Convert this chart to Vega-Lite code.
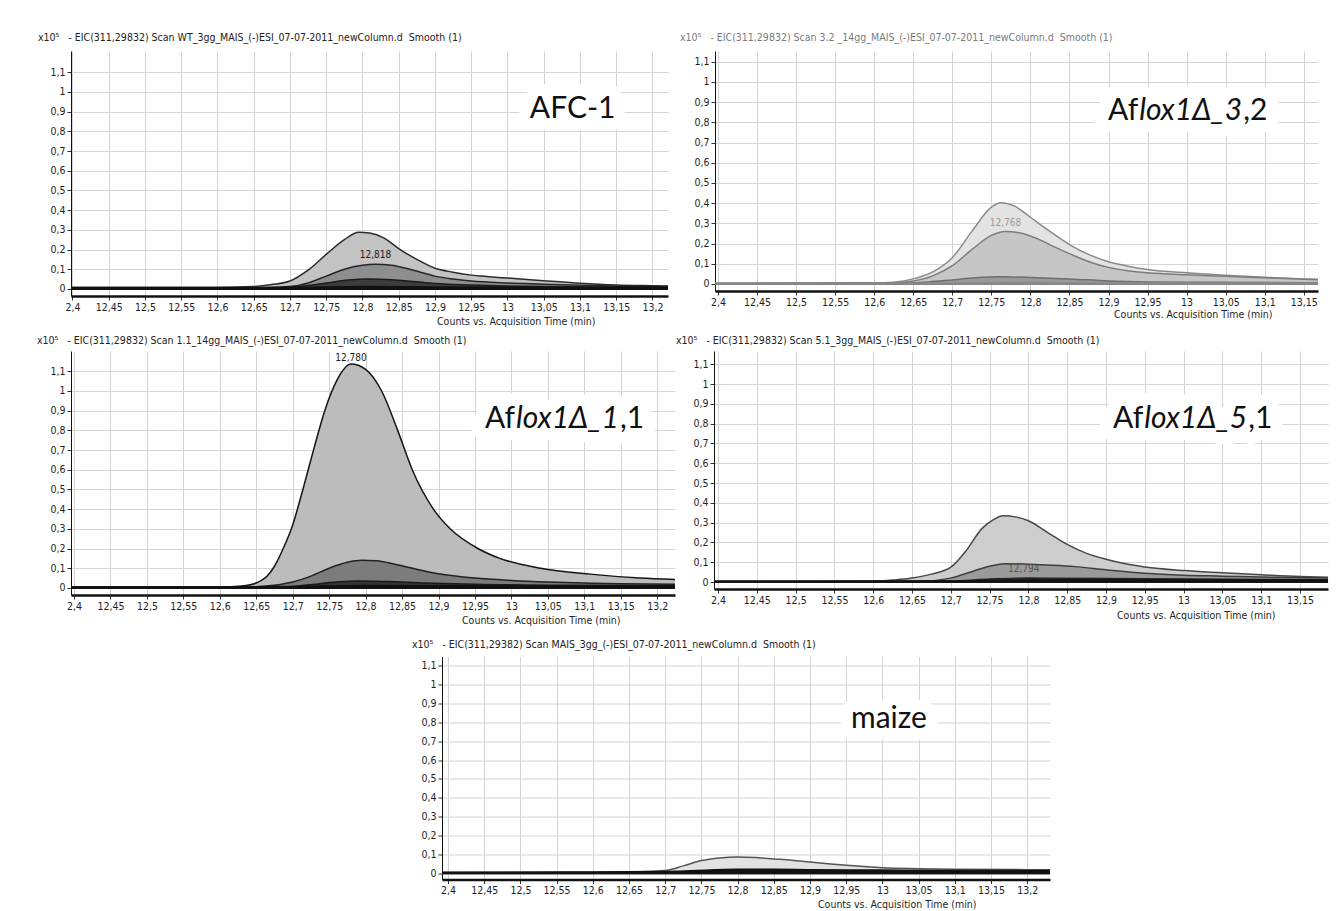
{
  "$schema": "https://vega.github.io/schema/vega-lite/v6.json",
  "background": "white",
  "padding": {"left": 37, "top": 32, "right": 5, "bottom": 5},
  "spacing": 13.5,
  "datasets": {
    "traces": [
      {"panel":"p1","series":"p1a","t":12.39,"v":0.008},{"panel":"p1","series":"p1a","t":12.5,"v":0.008},{"panel":"p1","series":"p1a","t":12.6,"v":0.008},{"panel":"p1","series":"p1a","t":12.65,"v":0.012},{"panel":"p1","series":"p1a","t":12.675,"v":0.022},{"panel":"p1","series":"p1a","t":12.7,"v":0.04},{"panel":"p1","series":"p1a","t":12.725,"v":0.095},{"panel":"p1","series":"p1a","t":12.75,"v":0.175},{"panel":"p1","series":"p1a","t":12.775,"v":0.25},{"panel":"p1","series":"p1a","t":12.795,"v":0.288},{"panel":"p1","series":"p1a","t":12.81,"v":0.284},{"panel":"p1","series":"p1a","t":12.83,"v":0.258},{"panel":"p1","series":"p1a","t":12.85,"v":0.205},{"panel":"p1","series":"p1a","t":12.875,"v":0.15},{"panel":"p1","series":"p1a","t":12.9,"v":0.105},{"panel":"p1","series":"p1a","t":12.925,"v":0.085},{"panel":"p1","series":"p1a","t":12.95,"v":0.07},{"panel":"p1","series":"p1a","t":12.975,"v":0.062},{"panel":"p1","series":"p1a","t":13.0,"v":0.055},{"panel":"p1","series":"p1a","t":13.05,"v":0.042},{"panel":"p1","series":"p1a","t":13.1,"v":0.029},{"panel":"p1","series":"p1a","t":13.15,"v":0.02},{"panel":"p1","series":"p1a","t":13.2,"v":0.016},{"panel":"p1","series":"p1a","t":13.23,"v":0.014},
      {"panel":"p1","series":"p1b","t":12.39,"v":0.005},{"panel":"p1","series":"p1b","t":12.65,"v":0.006},{"panel":"p1","series":"p1b","t":12.7,"v":0.012},{"panel":"p1","series":"p1b","t":12.725,"v":0.03},{"panel":"p1","series":"p1b","t":12.75,"v":0.065},{"panel":"p1","series":"p1b","t":12.775,"v":0.1},{"panel":"p1","series":"p1b","t":12.8,"v":0.12},{"panel":"p1","series":"p1b","t":12.818,"v":0.125},{"panel":"p1","series":"p1b","t":12.84,"v":0.12},{"panel":"p1","series":"p1b","t":12.86,"v":0.105},{"panel":"p1","series":"p1b","t":12.88,"v":0.085},{"panel":"p1","series":"p1b","t":12.9,"v":0.065},{"panel":"p1","series":"p1b","t":12.925,"v":0.05},{"panel":"p1","series":"p1b","t":12.95,"v":0.04},{"panel":"p1","series":"p1b","t":13.0,"v":0.03},{"panel":"p1","series":"p1b","t":13.05,"v":0.024},{"panel":"p1","series":"p1b","t":13.1,"v":0.018},{"panel":"p1","series":"p1b","t":13.15,"v":0.014},{"panel":"p1","series":"p1b","t":13.23,"v":0.011},
      {"panel":"p1","series":"p1c","t":12.39,"v":0.004},{"panel":"p1","series":"p1c","t":12.68,"v":0.005},{"panel":"p1","series":"p1c","t":12.72,"v":0.015},{"panel":"p1","series":"p1c","t":12.75,"v":0.03},{"panel":"p1","series":"p1c","t":12.78,"v":0.045},{"panel":"p1","series":"p1c","t":12.81,"v":0.05},{"panel":"p1","series":"p1c","t":12.84,"v":0.047},{"panel":"p1","series":"p1c","t":12.87,"v":0.038},{"panel":"p1","series":"p1c","t":12.9,"v":0.028},{"panel":"p1","series":"p1c","t":12.95,"v":0.02},{"panel":"p1","series":"p1c","t":13.0,"v":0.015},{"panel":"p1","series":"p1c","t":13.1,"v":0.01},{"panel":"p1","series":"p1c","t":13.23,"v":0.008},
      {"panel":"p1","series":"p1d","t":12.39,"v":0.006},{"panel":"p1","series":"p1d","t":12.6,"v":0.006},{"panel":"p1","series":"p1d","t":12.7,"v":0.007},{"panel":"p1","series":"p1d","t":12.8,"v":0.012},{"panel":"p1","series":"p1d","t":12.9,"v":0.01},{"panel":"p1","series":"p1d","t":13.0,"v":0.009},{"panel":"p1","series":"p1d","t":13.23,"v":0.008},

      {"panel":"p2","series":"p2a","t":12.39,"v":0.003},{"panel":"p2","series":"p2a","t":12.6,"v":0.004},{"panel":"p2","series":"p2a","t":12.625,"v":0.008},{"panel":"p2","series":"p2a","t":12.65,"v":0.025},{"panel":"p2","series":"p2a","t":12.675,"v":0.06},{"panel":"p2","series":"p2a","t":12.7,"v":0.13},{"panel":"p2","series":"p2a","t":12.725,"v":0.26},{"panel":"p2","series":"p2a","t":12.75,"v":0.38},{"panel":"p2","series":"p2a","t":12.762,"v":0.402},{"panel":"p2","series":"p2a","t":12.78,"v":0.385},{"panel":"p2","series":"p2a","t":12.8,"v":0.33},{"panel":"p2","series":"p2a","t":12.825,"v":0.26},{"panel":"p2","series":"p2a","t":12.85,"v":0.195},{"panel":"p2","series":"p2a","t":12.875,"v":0.145},{"panel":"p2","series":"p2a","t":12.9,"v":0.11},{"panel":"p2","series":"p2a","t":12.925,"v":0.088},{"panel":"p2","series":"p2a","t":12.95,"v":0.072},{"panel":"p2","series":"p2a","t":13.0,"v":0.055},{"panel":"p2","series":"p2a","t":13.05,"v":0.043},{"panel":"p2","series":"p2a","t":13.1,"v":0.033},{"panel":"p2","series":"p2a","t":13.15,"v":0.025},{"panel":"p2","series":"p2a","t":13.18,"v":0.022},
      {"panel":"p2","series":"p2b","t":12.39,"v":0.003},{"panel":"p2","series":"p2b","t":12.625,"v":0.005},{"panel":"p2","series":"p2b","t":12.65,"v":0.015},{"panel":"p2","series":"p2b","t":12.675,"v":0.04},{"panel":"p2","series":"p2b","t":12.7,"v":0.09},{"panel":"p2","series":"p2b","t":12.725,"v":0.17},{"panel":"p2","series":"p2b","t":12.75,"v":0.24},{"panel":"p2","series":"p2b","t":12.768,"v":0.26},{"panel":"p2","series":"p2b","t":12.79,"v":0.25},{"panel":"p2","series":"p2b","t":12.81,"v":0.222},{"panel":"p2","series":"p2b","t":12.83,"v":0.185},{"panel":"p2","series":"p2b","t":12.85,"v":0.15},{"panel":"p2","series":"p2b","t":12.875,"v":0.11},{"panel":"p2","series":"p2b","t":12.9,"v":0.082},{"panel":"p2","series":"p2b","t":12.925,"v":0.065},{"panel":"p2","series":"p2b","t":12.95,"v":0.055},{"panel":"p2","series":"p2b","t":13.0,"v":0.045},{"panel":"p2","series":"p2b","t":13.05,"v":0.038},{"panel":"p2","series":"p2b","t":13.1,"v":0.03},{"panel":"p2","series":"p2b","t":13.15,"v":0.023},{"panel":"p2","series":"p2b","t":13.18,"v":0.02},
      {"panel":"p2","series":"p2c","t":12.39,"v":0.002},{"panel":"p2","series":"p2c","t":12.62,"v":0.003},{"panel":"p2","series":"p2c","t":12.67,"v":0.01},{"panel":"p2","series":"p2c","t":12.7,"v":0.02},{"panel":"p2","series":"p2c","t":12.73,"v":0.03},{"panel":"p2","series":"p2c","t":12.76,"v":0.035},{"panel":"p2","series":"p2c","t":12.8,"v":0.032},{"panel":"p2","series":"p2c","t":12.85,"v":0.025},{"panel":"p2","series":"p2c","t":12.9,"v":0.015},{"panel":"p2","series":"p2c","t":12.95,"v":0.01},{"panel":"p2","series":"p2c","t":13.0,"v":0.008},{"panel":"p2","series":"p2c","t":13.18,"v":0.006},
      {"panel":"p2","series":"p2d","t":12.39,"v":0.002},{"panel":"p2","series":"p2d","t":12.6,"v":0.003},{"panel":"p2","series":"p2d","t":12.7,"v":0.005},{"panel":"p2","series":"p2d","t":12.8,"v":0.007},{"panel":"p2","series":"p2d","t":12.9,"v":0.005},{"panel":"p2","series":"p2d","t":13.18,"v":0.004},

      {"panel":"p3","series":"p3a","t":12.38,"v":0.004},{"panel":"p3","series":"p3a","t":12.5,"v":0.004},{"panel":"p3","series":"p3a","t":12.6,"v":0.005},{"panel":"p3","series":"p3a","t":12.63,"v":0.01},{"panel":"p3","series":"p3a","t":12.65,"v":0.025},{"panel":"p3","series":"p3a","t":12.665,"v":0.06},{"panel":"p3","series":"p3a","t":12.675,"v":0.11},{"panel":"p3","series":"p3a","t":12.687,"v":0.2},{"panel":"p3","series":"p3a","t":12.7,"v":0.32},{"panel":"p3","series":"p3a","t":12.714,"v":0.5},{"panel":"p3","series":"p3a","t":12.73,"v":0.72},{"panel":"p3","series":"p3a","t":12.744,"v":0.9},{"panel":"p3","series":"p3a","t":12.76,"v":1.05},{"panel":"p3","series":"p3a","t":12.78,"v":1.137},{"panel":"p3","series":"p3a","t":12.8,"v":1.11},{"panel":"p3","series":"p3a","t":12.822,"v":1.0},{"panel":"p3","series":"p3a","t":12.844,"v":0.8},{"panel":"p3","series":"p3a","t":12.864,"v":0.6},{"panel":"p3","series":"p3a","t":12.893,"v":0.4},{"panel":"p3","series":"p3a","t":12.916,"v":0.3},{"panel":"p3","series":"p3a","t":12.954,"v":0.2},{"panel":"p3","series":"p3a","t":12.984,"v":0.15},{"panel":"p3","series":"p3a","t":13.04,"v":0.1},{"panel":"p3","series":"p3a","t":13.108,"v":0.07},{"panel":"p3","series":"p3a","t":13.176,"v":0.05},{"panel":"p3","series":"p3a","t":13.23,"v":0.042},
      {"panel":"p3","series":"p3b","t":12.38,"v":0.003},{"panel":"p3","series":"p3b","t":12.62,"v":0.004},{"panel":"p3","series":"p3b","t":12.66,"v":0.008},{"panel":"p3","series":"p3b","t":12.7,"v":0.03},{"panel":"p3","series":"p3b","t":12.725,"v":0.06},{"panel":"p3","series":"p3b","t":12.75,"v":0.1},{"panel":"p3","series":"p3b","t":12.775,"v":0.13},{"panel":"p3","series":"p3b","t":12.795,"v":0.14},{"panel":"p3","series":"p3b","t":12.815,"v":0.138},{"panel":"p3","series":"p3b","t":12.84,"v":0.12},{"panel":"p3","series":"p3b","t":12.87,"v":0.095},{"panel":"p3","series":"p3b","t":12.9,"v":0.072},{"panel":"p3","series":"p3b","t":12.95,"v":0.05},{"panel":"p3","series":"p3b","t":13.0,"v":0.038},{"panel":"p3","series":"p3b","t":13.05,"v":0.03},{"panel":"p3","series":"p3b","t":13.1,"v":0.025},{"panel":"p3","series":"p3b","t":13.15,"v":0.021},{"panel":"p3","series":"p3b","t":13.23,"v":0.018},
      {"panel":"p3","series":"p3c","t":12.38,"v":0.003},{"panel":"p3","series":"p3c","t":12.68,"v":0.004},{"panel":"p3","series":"p3c","t":12.72,"v":0.015},{"panel":"p3","series":"p3c","t":12.76,"v":0.03},{"panel":"p3","series":"p3c","t":12.79,"v":0.035},{"panel":"p3","series":"p3c","t":12.83,"v":0.032},{"panel":"p3","series":"p3c","t":12.88,"v":0.025},{"panel":"p3","series":"p3c","t":12.95,"v":0.018},{"panel":"p3","series":"p3c","t":13.05,"v":0.014},{"panel":"p3","series":"p3c","t":13.23,"v":0.012},
      {"panel":"p3","series":"p3d","t":12.38,"v":0.005},{"panel":"p3","series":"p3d","t":12.6,"v":0.005},{"panel":"p3","series":"p3d","t":12.7,"v":0.007},{"panel":"p3","series":"p3d","t":12.8,"v":0.012},{"panel":"p3","series":"p3d","t":12.9,"v":0.011},{"panel":"p3","series":"p3d","t":13.0,"v":0.01},{"panel":"p3","series":"p3d","t":13.23,"v":0.01},

      {"panel":"p4","series":"p4a","t":12.39,"v":0.004},{"panel":"p4","series":"p4a","t":12.6,"v":0.004},{"panel":"p4","series":"p4a","t":12.625,"v":0.01},{"panel":"p4","series":"p4a","t":12.65,"v":0.02},{"panel":"p4","series":"p4a","t":12.675,"v":0.04},{"panel":"p4","series":"p4a","t":12.7,"v":0.075},{"panel":"p4","series":"p4a","t":12.72,"v":0.16},{"panel":"p4","series":"p4a","t":12.74,"v":0.27},{"panel":"p4","series":"p4a","t":12.755,"v":0.315},{"panel":"p4","series":"p4a","t":12.767,"v":0.335},{"panel":"p4","series":"p4a","t":12.785,"v":0.328},{"panel":"p4","series":"p4a","t":12.8,"v":0.31},{"panel":"p4","series":"p4a","t":12.825,"v":0.25},{"panel":"p4","series":"p4a","t":12.85,"v":0.19},{"panel":"p4","series":"p4a","t":12.875,"v":0.145},{"panel":"p4","series":"p4a","t":12.9,"v":0.115},{"panel":"p4","series":"p4a","t":12.925,"v":0.092},{"panel":"p4","series":"p4a","t":12.95,"v":0.076},{"panel":"p4","series":"p4a","t":13.0,"v":0.058},{"panel":"p4","series":"p4a","t":13.05,"v":0.047},{"panel":"p4","series":"p4a","t":13.1,"v":0.037},{"panel":"p4","series":"p4a","t":13.15,"v":0.028},{"panel":"p4","series":"p4a","t":13.19,"v":0.024},
      {"panel":"p4","series":"p4b","t":12.39,"v":0.003},{"panel":"p4","series":"p4b","t":12.66,"v":0.004},{"panel":"p4","series":"p4b","t":12.7,"v":0.02},{"panel":"p4","series":"p4b","t":12.725,"v":0.05},{"panel":"p4","series":"p4b","t":12.75,"v":0.08},{"panel":"p4","series":"p4b","t":12.77,"v":0.093},{"panel":"p4","series":"p4b","t":12.8,"v":0.09},{"panel":"p4","series":"p4b","t":12.83,"v":0.085},{"panel":"p4","series":"p4b","t":12.86,"v":0.078},{"panel":"p4","series":"p4b","t":12.9,"v":0.062},{"panel":"p4","series":"p4b","t":12.95,"v":0.045},{"panel":"p4","series":"p4b","t":13.0,"v":0.035},{"panel":"p4","series":"p4b","t":13.05,"v":0.03},{"panel":"p4","series":"p4b","t":13.1,"v":0.025},{"panel":"p4","series":"p4b","t":13.19,"v":0.02},
      {"panel":"p4","series":"p4c","t":12.39,"v":0.003},{"panel":"p4","series":"p4c","t":12.7,"v":0.005},{"panel":"p4","series":"p4c","t":12.75,"v":0.015},{"panel":"p4","series":"p4c","t":12.8,"v":0.02},{"panel":"p4","series":"p4c","t":12.9,"v":0.018},{"panel":"p4","series":"p4c","t":13.0,"v":0.015},{"panel":"p4","series":"p4c","t":13.19,"v":0.012},
      {"panel":"p4","series":"p4d","t":12.39,"v":0.004},{"panel":"p4","series":"p4d","t":12.7,"v":0.005},{"panel":"p4","series":"p4d","t":12.8,"v":0.01},{"panel":"p4","series":"p4d","t":12.9,"v":0.01},{"panel":"p4","series":"p4d","t":13.19,"v":0.01},

      {"panel":"p5","series":"p5a","t":12.39,"v":0.005},{"panel":"p5","series":"p5a","t":12.6,"v":0.007},{"panel":"p5","series":"p5a","t":12.68,"v":0.01},{"panel":"p5","series":"p5a","t":12.7,"v":0.015},{"panel":"p5","series":"p5a","t":12.725,"v":0.04},{"panel":"p5","series":"p5a","t":12.75,"v":0.068},{"panel":"p5","series":"p5a","t":12.775,"v":0.082},{"panel":"p5","series":"p5a","t":12.8,"v":0.087},{"panel":"p5","series":"p5a","t":12.825,"v":0.084},{"panel":"p5","series":"p5a","t":12.85,"v":0.077},{"panel":"p5","series":"p5a","t":12.875,"v":0.07},{"panel":"p5","series":"p5a","t":12.9,"v":0.06},{"panel":"p5","series":"p5a","t":12.95,"v":0.043},{"panel":"p5","series":"p5a","t":13.0,"v":0.03},{"panel":"p5","series":"p5a","t":13.05,"v":0.025},{"panel":"p5","series":"p5a","t":13.1,"v":0.022},{"panel":"p5","series":"p5a","t":13.2,"v":0.02},{"panel":"p5","series":"p5a","t":13.24,"v":0.02},
      {"panel":"p5","series":"p5b","t":12.39,"v":0.006},{"panel":"p5","series":"p5b","t":12.43,"v":0.006},{"panel":"p5","series":"p5b","t":12.6,"v":0.008},{"panel":"p5","series":"p5b","t":12.72,"v":0.012},{"panel":"p5","series":"p5b","t":12.8,"v":0.022},{"panel":"p5","series":"p5b","t":12.85,"v":0.022},{"panel":"p5","series":"p5b","t":12.9,"v":0.02},{"panel":"p5","series":"p5b","t":13.0,"v":0.018},{"panel":"p5","series":"p5b","t":13.1,"v":0.016},{"panel":"p5","series":"p5b","t":13.24,"v":0.016}
    ],
    "peaks": [
      {"panel":"p1","t":12.818,"v":0.17,"label":"12,818"},
      {"panel":"p2","t":12.768,"v":0.3,"label":"12,768"},
      {"panel":"p3","t":12.78,"v":1.168,"label":"12,780"},
      {"panel":"p4","t":12.794,"v":0.065,"label":"12,794"}
    ],
    "plainlabels": [
      {"panel":"p1","t":13.09,"v":0.914,"text":"AFC-1"},
      {"panel":"p5","t":13.009,"v":0.815,"text":"maize"}
    ],
    "mixlabels": [
      {"panel":"p2","t":12.938,"v":0.856,"pre":"Af","ital":"lox1Δ_3","post":",2","full":"Aflox1Δ_3,2"},
      {"panel":"p3","t":13.005,"v":0.858,"pre":"Af","ital":"lox1Δ_1","post":",1","full":"Aflox1Δ_1,1"},
      {"panel":"p4","t":12.948,"v":0.823,"pre":"Af","ital":"lox1Δ_5","post":",1","full":"Aflox1Δ_5,1"}
    ]
  },
  "vconcat": [
    {
      "spacing": 8,
      "vconcat": [
        {
          "bounds": "flush",
          "spacing": 47,
          "hconcat": [
            {
              "width": 597, "height": 245,
              "title": {"text": "x10⁵\u00a0\u00a0\u00a0- EIC(311,29832) Scan WT_3gg_MAIS_(-)ESI_07-07-2011_newColumn.d\u00a0\u00a0Smooth (1)", "dx": -33, "offset": 8},
              "encoding": {
                "x": {"field": "t", "type": "quantitative", "scale": {"domain": [12.398, 13.2215], "nice": false, "zero": false},
                      "axis": {"values": [12.4,12.45,12.5,12.55,12.6,12.65,12.7,12.75,12.8,12.85,12.9,12.95,13,13.05,13.1,13.15,13.2], "labelExpr": "datum.value < 12.41 ? '2,4' : replace(format(datum.value, '.2~f'), '.', ',')", "title": "Counts vs. Acquisition Time (min)", "titleX": 524, "titleY": 25}},
                "y": {"field": "v", "type": "quantitative", "stack": null, "scale": {"domain": [-0.036, 1.208], "nice": false, "zero": false},
                      "axis": {"values": [0,0.1,0.2,0.3,0.4,0.5,0.6,0.7,0.8,0.9,1,1.1], "labelExpr": "replace(format(datum.value, '.1~f'), '.', ',')", "title": null}}
              },
              "layer": [
                {"data": {"name": "traces"}, "transform": [{"filter": "datum.panel == 'p1'"}],
                 "mark": {"type": "area", "interpolate": "monotone", "clip": true, "strokeWidth": 1.5},
                 "encoding": {
                   "fill": {"field": "series", "type": "nominal", "legend": null, "scale": {"domain": ["p1a","p1b","p1c","p1d","p2a","p2b","p2c","p2d","p3a","p3b","p3c","p3d","p4a","p4b","p4c","p4d","p5a","p5b"], "range": ["#c3c3c3","#8e8e8e","#3c3c3c","#111111","#e3e3e3","#c6c6c6","#9a9a9a","#7a7a7a","#bcbcbc","#7c7c7c","#333333","#111111","#cdcdcd","#9a9a9a","#2e2e2e","#111111","#e2e2e2","#111111"]}},
                   "stroke": {"field": "series", "type": "nominal", "legend": null, "scale": {"domain": ["p1a","p1b","p1c","p1d","p2a","p2b","p2c","p2d","p3a","p3b","p3c","p3d","p4a","p4b","p4c","p4d","p5a","p5b"], "range": ["#2b2b2b","#262626","#1c1c1c","#111111","#8a8a8a","#7c7c7c","#6e6e6e","#8a8a8a","#151515","#222222","#1a1a1a","#111111","#474747","#3e3e3e","#222222","#111111","#555555","#111111"]}}
                 }},
                {"data": {"name": "peaks"}, "transform": [{"filter": "datum.panel == 'p1'"}],
                 "mark": {"type": "text", "fontSize": 10, "color": "#222", "baseline": "middle"},
                 "encoding": {"text": {"field": "label"}}},
                {"data": {"name": "plainlabels"}, "transform": [{"filter": "datum.panel == 'p1'"}],
                 "mark": {"type": "text", "font": "Lato, Noto Sans, sans-serif", "fontSize": 30, "baseline": "middle", "align": "center", "fill": "white", "stroke": "white", "strokeWidth": 24, "strokeJoin": "round"},
                 "encoding": {"text": {"field": "text"}}},
                {"data": {"name": "plainlabels"}, "transform": [{"filter": "datum.panel == 'p1'"}],
                 "mark": {"type": "text", "font": "Lato, Noto Sans, sans-serif", "fontSize": 30, "baseline": "middle", "align": "center", "color": "#111"},
                 "encoding": {"text": {"field": "text"}}}
              ]
            },
            {
              "width": 603, "height": 240,
              "title": {"text": "x10⁵\u00a0\u00a0\u00a0- EIC(311,29832) Scan 3.2 _14gg_MAIS_(-)ESI_07-07-2011_newColumn.d\u00a0\u00a0Smooth (1)", "dx": -35, "offset": 8, "color": "#7a7a7a"},
              "encoding": {
                "x": {"field": "t", "type": "quantitative", "scale": {"domain": [12.3962, 13.1682], "nice": false, "zero": false},
                      "axis": {"values": [12.4,12.45,12.5,12.55,12.6,12.65,12.7,12.75,12.8,12.85,12.9,12.95,13,13.05,13.1,13.15], "labelExpr": "datum.value < 12.41 ? '2,4' : replace(format(datum.value, '.2~f'), '.', ',')", "title": "Counts vs. Acquisition Time (min)", "titleX": 557, "titleY": 23}},
                "y": {"field": "v", "type": "quantitative", "stack": null, "scale": {"domain": [-0.035, 1.153], "nice": false, "zero": false},
                      "axis": {"values": [0,0.1,0.2,0.3,0.4,0.5,0.6,0.7,0.8,0.9,1,1.1], "labelExpr": "replace(format(datum.value, '.1~f'), '.', ',')", "title": null}}
              },
              "layer": [
                {"data": {"name": "traces"}, "transform": [{"filter": "datum.panel == 'p2'"}],
                 "mark": {"type": "area", "interpolate": "monotone", "clip": true, "strokeWidth": 1.5},
                 "encoding": {
                   "fill": {"field": "series", "type": "nominal", "legend": null, "scale": {"domain": ["p1a","p1b","p1c","p1d","p2a","p2b","p2c","p2d","p3a","p3b","p3c","p3d","p4a","p4b","p4c","p4d","p5a","p5b"], "range": ["#c3c3c3","#8e8e8e","#3c3c3c","#111111","#e3e3e3","#c6c6c6","#9a9a9a","#7a7a7a","#bcbcbc","#7c7c7c","#333333","#111111","#cdcdcd","#9a9a9a","#2e2e2e","#111111","#e2e2e2","#111111"]}},
                   "stroke": {"field": "series", "type": "nominal", "legend": null, "scale": {"domain": ["p1a","p1b","p1c","p1d","p2a","p2b","p2c","p2d","p3a","p3b","p3c","p3d","p4a","p4b","p4c","p4d","p5a","p5b"], "range": ["#2b2b2b","#262626","#1c1c1c","#111111","#8a8a8a","#7c7c7c","#6e6e6e","#8a8a8a","#151515","#222222","#1a1a1a","#111111","#474747","#3e3e3e","#222222","#111111","#555555","#111111"]}}
                 }},
                {"data": {"name": "peaks"}, "transform": [{"filter": "datum.panel == 'p2'"}],
                 "mark": {"type": "text", "fontSize": 10, "color": "#9a9a9a", "baseline": "middle"},
                 "encoding": {"text": {"field": "label"}}},
                {"data": {"name": "mixlabels"}, "transform": [{"filter": "datum.panel == 'p2'"}],
                 "mark": {"type": "text", "font": "Lato, Noto Sans, sans-serif", "fontSize": 30, "baseline": "middle", "align": "left", "dx": -32, "fill": "white", "stroke": "white", "strokeWidth": 24, "strokeJoin": "round"},
                 "encoding": {"text": {"field": "full"}}},
                {"data": {"name": "mixlabels"}, "transform": [{"filter": "datum.panel == 'p2'"}],
                 "mark": {"type": "text", "font": "Lato, Noto Sans, sans-serif", "fontSize": 30, "baseline": "middle", "align": "right", "color": "#111"},
                 "encoding": {"text": {"field": "pre"}}},
                {"data": {"name": "mixlabels"}, "transform": [{"filter": "datum.panel == 'p2'"}],
                 "mark": {"type": "text", "font": "Lato, Noto Sans, sans-serif", "fontSize": 30, "fontStyle": "italic", "baseline": "middle", "align": "left", "dx": 1, "color": "#111"},
                 "encoding": {"text": {"field": "ital"}}},
                {"data": {"name": "mixlabels"}, "transform": [{"filter": "datum.panel == 'p2'"}],
                 "mark": {"type": "text", "font": "Lato, Noto Sans, sans-serif", "fontSize": 30, "baseline": "middle", "align": "left", "dx": 105, "color": "#111"},
                 "encoding": {"text": {"field": "post"}}}
              ]
            }
          ]
        },
        {
          "bounds": "flush",
          "spacing": 39,
          "hconcat": [
            {
              "width": 604, "height": 244,
              "title": {"text": "x10⁵\u00a0\u00a0\u00a0- EIC(311,29832) Scan 1.1_14gg_MAIS_(-)ESI_07-07-2011_newColumn.d\u00a0\u00a0Smooth (1)", "dx": -34, "offset": 5},
              "encoding": {
                "x": {"field": "t", "type": "quantitative", "scale": {"domain": [12.3959, 13.2244], "nice": false, "zero": false},
                      "axis": {"values": [12.4,12.45,12.5,12.55,12.6,12.65,12.7,12.75,12.8,12.85,12.9,12.95,13,13.05,13.1,13.15,13.2], "labelExpr": "datum.value < 12.41 ? '2,4' : replace(format(datum.value, '.2~f'), '.', ',')", "title": "Counts vs. Acquisition Time (min)", "titleX": 549, "titleY": 25}},
                "y": {"field": "v", "type": "quantitative", "stack": null, "scale": {"domain": [-0.036, 1.203], "nice": false, "zero": false},
                      "axis": {"values": [0,0.1,0.2,0.3,0.4,0.5,0.6,0.7,0.8,0.9,1,1.1], "labelExpr": "replace(format(datum.value, '.1~f'), '.', ',')", "title": null}}
              },
              "layer": [
                {"data": {"name": "traces"}, "transform": [{"filter": "datum.panel == 'p3'"}],
                 "mark": {"type": "area", "interpolate": "monotone", "clip": true, "strokeWidth": 1.5},
                 "encoding": {
                   "fill": {"field": "series", "type": "nominal", "legend": null, "scale": {"domain": ["p1a","p1b","p1c","p1d","p2a","p2b","p2c","p2d","p3a","p3b","p3c","p3d","p4a","p4b","p4c","p4d","p5a","p5b"], "range": ["#c3c3c3","#8e8e8e","#3c3c3c","#111111","#e3e3e3","#c6c6c6","#9a9a9a","#7a7a7a","#bcbcbc","#7c7c7c","#333333","#111111","#cdcdcd","#9a9a9a","#2e2e2e","#111111","#e2e2e2","#111111"]}},
                   "stroke": {"field": "series", "type": "nominal", "legend": null, "scale": {"domain": ["p1a","p1b","p1c","p1d","p2a","p2b","p2c","p2d","p3a","p3b","p3c","p3d","p4a","p4b","p4c","p4d","p5a","p5b"], "range": ["#2b2b2b","#262626","#1c1c1c","#111111","#8a8a8a","#7c7c7c","#6e6e6e","#8a8a8a","#151515","#222222","#1a1a1a","#111111","#474747","#3e3e3e","#222222","#111111","#555555","#111111"]}}
                 }},
                {"data": {"name": "peaks"}, "transform": [{"filter": "datum.panel == 'p3'"}],
                 "mark": {"type": "text", "fontSize": 10, "color": "#222", "baseline": "middle"},
                 "encoding": {"text": {"field": "label"}}},
                {"data": {"name": "mixlabels"}, "transform": [{"filter": "datum.panel == 'p3'"}],
                 "mark": {"type": "text", "font": "Lato, Noto Sans, sans-serif", "fontSize": 30, "baseline": "middle", "align": "left", "dx": -32, "fill": "white", "stroke": "white", "strokeWidth": 24, "strokeJoin": "round"},
                 "encoding": {"text": {"field": "full"}}},
                {"data": {"name": "mixlabels"}, "transform": [{"filter": "datum.panel == 'p3'"}],
                 "mark": {"type": "text", "font": "Lato, Noto Sans, sans-serif", "fontSize": 30, "baseline": "middle", "align": "right", "color": "#111"},
                 "encoding": {"text": {"field": "pre"}}},
                {"data": {"name": "mixlabels"}, "transform": [{"filter": "datum.panel == 'p3'"}],
                 "mark": {"type": "text", "font": "Lato, Noto Sans, sans-serif", "fontSize": 30, "fontStyle": "italic", "baseline": "middle", "align": "left", "dx": 1, "color": "#111"},
                 "encoding": {"text": {"field": "ital"}}},
                {"data": {"name": "mixlabels"}, "transform": [{"filter": "datum.panel == 'p3'"}],
                 "mark": {"type": "text", "font": "Lato, Noto Sans, sans-serif", "fontSize": 30, "baseline": "middle", "align": "left", "dx": 105, "color": "#111"},
                 "encoding": {"text": {"field": "post"}}}
              ]
            },
            {
              "width": 614, "height": 238,
              "title": {"text": "x10⁵\u00a0\u00a0\u00a0- EIC(311,29832) Scan 5.1_3gg_MAIS_(-)ESI_07-07-2011_newColumn.d\u00a0\u00a0Smooth (1)", "dx": -38, "offset": 5},
              "encoding": {
                "x": {"field": "t", "type": "quantitative", "scale": {"domain": [12.3948, 13.1861], "nice": false, "zero": false},
                      "axis": {"values": [12.4,12.45,12.5,12.55,12.6,12.65,12.7,12.75,12.8,12.85,12.9,12.95,13,13.05,13.1,13.15], "labelExpr": "datum.value < 12.41 ? '2,4' : replace(format(datum.value, '.2~f'), '.', ',')", "title": "Counts vs. Acquisition Time (min)", "titleX": 561, "titleY": 26}},
                "y": {"field": "v", "type": "quantitative", "stack": null, "scale": {"domain": [-0.035, 1.167], "nice": false, "zero": false},
                      "axis": {"values": [0,0.1,0.2,0.3,0.4,0.5,0.6,0.7,0.8,0.9,1,1.1], "labelExpr": "replace(format(datum.value, '.1~f'), '.', ',')", "title": null}}
              },
              "layer": [
                {"data": {"name": "traces"}, "transform": [{"filter": "datum.panel == 'p4'"}],
                 "mark": {"type": "area", "interpolate": "monotone", "clip": true, "strokeWidth": 1.5},
                 "encoding": {
                   "fill": {"field": "series", "type": "nominal", "legend": null, "scale": {"domain": ["p1a","p1b","p1c","p1d","p2a","p2b","p2c","p2d","p3a","p3b","p3c","p3d","p4a","p4b","p4c","p4d","p5a","p5b"], "range": ["#c3c3c3","#8e8e8e","#3c3c3c","#111111","#e3e3e3","#c6c6c6","#9a9a9a","#7a7a7a","#bcbcbc","#7c7c7c","#333333","#111111","#cdcdcd","#9a9a9a","#2e2e2e","#111111","#e2e2e2","#111111"]}},
                   "stroke": {"field": "series", "type": "nominal", "legend": null, "scale": {"domain": ["p1a","p1b","p1c","p1d","p2a","p2b","p2c","p2d","p3a","p3b","p3c","p3d","p4a","p4b","p4c","p4d","p5a","p5b"], "range": ["#2b2b2b","#262626","#1c1c1c","#111111","#8a8a8a","#7c7c7c","#6e6e6e","#8a8a8a","#151515","#222222","#1a1a1a","#111111","#474747","#3e3e3e","#222222","#111111","#555555","#111111"]}}
                 }},
                {"data": {"name": "peaks"}, "transform": [{"filter": "datum.panel == 'p4'"}],
                 "mark": {"type": "text", "fontSize": 10, "color": "#555", "baseline": "middle"},
                 "encoding": {"text": {"field": "label"}}},
                {"data": {"name": "mixlabels"}, "transform": [{"filter": "datum.panel == 'p4'"}],
                 "mark": {"type": "text", "font": "Lato, Noto Sans, sans-serif", "fontSize": 30, "baseline": "middle", "align": "left", "dx": -32, "fill": "white", "stroke": "white", "strokeWidth": 24, "strokeJoin": "round"},
                 "encoding": {"text": {"field": "full"}}},
                {"data": {"name": "mixlabels"}, "transform": [{"filter": "datum.panel == 'p4'"}],
                 "mark": {"type": "text", "font": "Lato, Noto Sans, sans-serif", "fontSize": 30, "baseline": "middle", "align": "right", "color": "#111"},
                 "encoding": {"text": {"field": "pre"}}},
                {"data": {"name": "mixlabels"}, "transform": [{"filter": "datum.panel == 'p4'"}],
                 "mark": {"type": "text", "font": "Lato, Noto Sans, sans-serif", "fontSize": 30, "fontStyle": "italic", "baseline": "middle", "align": "left", "dx": 1, "color": "#111"},
                 "encoding": {"text": {"field": "ital"}}},
                {"data": {"name": "mixlabels"}, "transform": [{"filter": "datum.panel == 'p4'"}],
                 "mark": {"type": "text", "font": "Lato, Noto Sans, sans-serif", "fontSize": 30, "baseline": "middle", "align": "left", "dx": 105, "color": "#111"},
                 "encoding": {"text": {"field": "post"}}}
              ]
            }
          ]
        }
      ]
    },
    {
      "bounds": "flush",
      "spacing": 0,
      "hconcat": [
        {"width": 371, "height": 20, "data": {"values": [{}]}, "mark": {"type": "text"}, "encoding": {"text": {"value": ""}}},
        {
          "width": 608, "height": 223,
          "title": {"text": "x10⁵\u00a0\u00a0\u00a0- EIC(311,29382) Scan MAIS_3gg_(-)ESI_07-07-2011_newColumn.d\u00a0\u00a0Smooth (1)", "dx": -30, "offset": 6},
          "encoding": {
            "x": {"field": "t", "type": "quantitative", "scale": {"domain": [12.3917, 13.2315], "nice": false, "zero": false},
                  "axis": {"values": [12.4,12.45,12.5,12.55,12.6,12.65,12.7,12.75,12.8,12.85,12.9,12.95,13,13.05,13.1,13.15,13.2], "labelExpr": "datum.value < 12.41 ? '2,4' : replace(format(datum.value, '.2~f'), '.', ',')", "title": "Counts vs. Acquisition Time (min)", "titleX": 534, "titleY": 25}},
            "y": {"field": "v", "type": "quantitative", "stack": null, "scale": {"domain": [-0.032, 1.148], "nice": false, "zero": false},
                  "axis": {"values": [0,0.1,0.2,0.3,0.4,0.5,0.6,0.7,0.8,0.9,1,1.1], "labelExpr": "replace(format(datum.value, '.1~f'), '.', ',')", "title": null}}
          },
          "layer": [
            {"data": {"name": "traces"}, "transform": [{"filter": "datum.panel == 'p5'"}],
             "mark": {"type": "area", "interpolate": "monotone", "clip": true, "strokeWidth": 1.5},
             "encoding": {
               "fill": {"field": "series", "type": "nominal", "legend": null, "scale": {"domain": ["p1a","p1b","p1c","p1d","p2a","p2b","p2c","p2d","p3a","p3b","p3c","p3d","p4a","p4b","p4c","p4d","p5a","p5b"], "range": ["#c3c3c3","#8e8e8e","#3c3c3c","#111111","#e3e3e3","#c6c6c6","#9a9a9a","#7a7a7a","#bcbcbc","#7c7c7c","#333333","#111111","#cdcdcd","#9a9a9a","#2e2e2e","#111111","#e2e2e2","#111111"]}},
               "stroke": {"field": "series", "type": "nominal", "legend": null, "scale": {"domain": ["p1a","p1b","p1c","p1d","p2a","p2b","p2c","p2d","p3a","p3b","p3c","p3d","p4a","p4b","p4c","p4d","p5a","p5b"], "range": ["#2b2b2b","#262626","#1c1c1c","#111111","#8a8a8a","#7c7c7c","#6e6e6e","#8a8a8a","#151515","#222222","#1a1a1a","#111111","#474747","#3e3e3e","#222222","#111111","#555555","#111111"]}}
             }},
            {"data": {"name": "plainlabels"}, "transform": [{"filter": "datum.panel == 'p5'"}],
             "mark": {"type": "text", "font": "Lato, Noto Sans, sans-serif", "fontSize": 30, "baseline": "middle", "align": "center", "fill": "white", "stroke": "white", "strokeWidth": 24, "strokeJoin": "round"},
             "encoding": {"text": {"field": "text"}}},
            {"data": {"name": "plainlabels"}, "transform": [{"filter": "datum.panel == 'p5'"}],
             "mark": {"type": "text", "font": "Lato, Noto Sans, sans-serif", "fontSize": 30, "baseline": "middle", "align": "center", "color": "#111"},
             "encoding": {"text": {"field": "text"}}}
          ]
        }
      ]
    }
  ],
  "config": {
    "font": "Liberation Sans Narrow, DejaVu Sans Condensed, sans-serif",
    "view": {"stroke": null},
    "title": {"font": "Liberation Sans Narrow, DejaVu Sans Condensed, sans-serif", "fontSize": 10.5, "fontWeight": "normal", "anchor": "start", "frame": "group", "color": "#222"},
    "axis": {"labelFont": "Liberation Sans Narrow, DejaVu Sans Condensed, sans-serif", "labelFontSize": 10.5, "labelColor": "#1e1e1e", "titleFont": "Liberation Sans Narrow, DejaVu Sans Condensed, sans-serif", "titleFontSize": 10.5, "titleFontWeight": "normal", "titleColor": "#1e1e1e", "gridColor": "#d4d4d4", "gridWidth": 1, "tickColor": "#333", "tickSize": 4, "domainColor": "#111", "labelOverlap": false},
    "axisX": {"domainWidth": 2.5, "labelPadding": 2, "labelFlush": false, "titleAlign": "right", "titleBaseline": "middle"},
    "axisY": {"domainWidth": 1, "labelPadding": 2}
  }
}
